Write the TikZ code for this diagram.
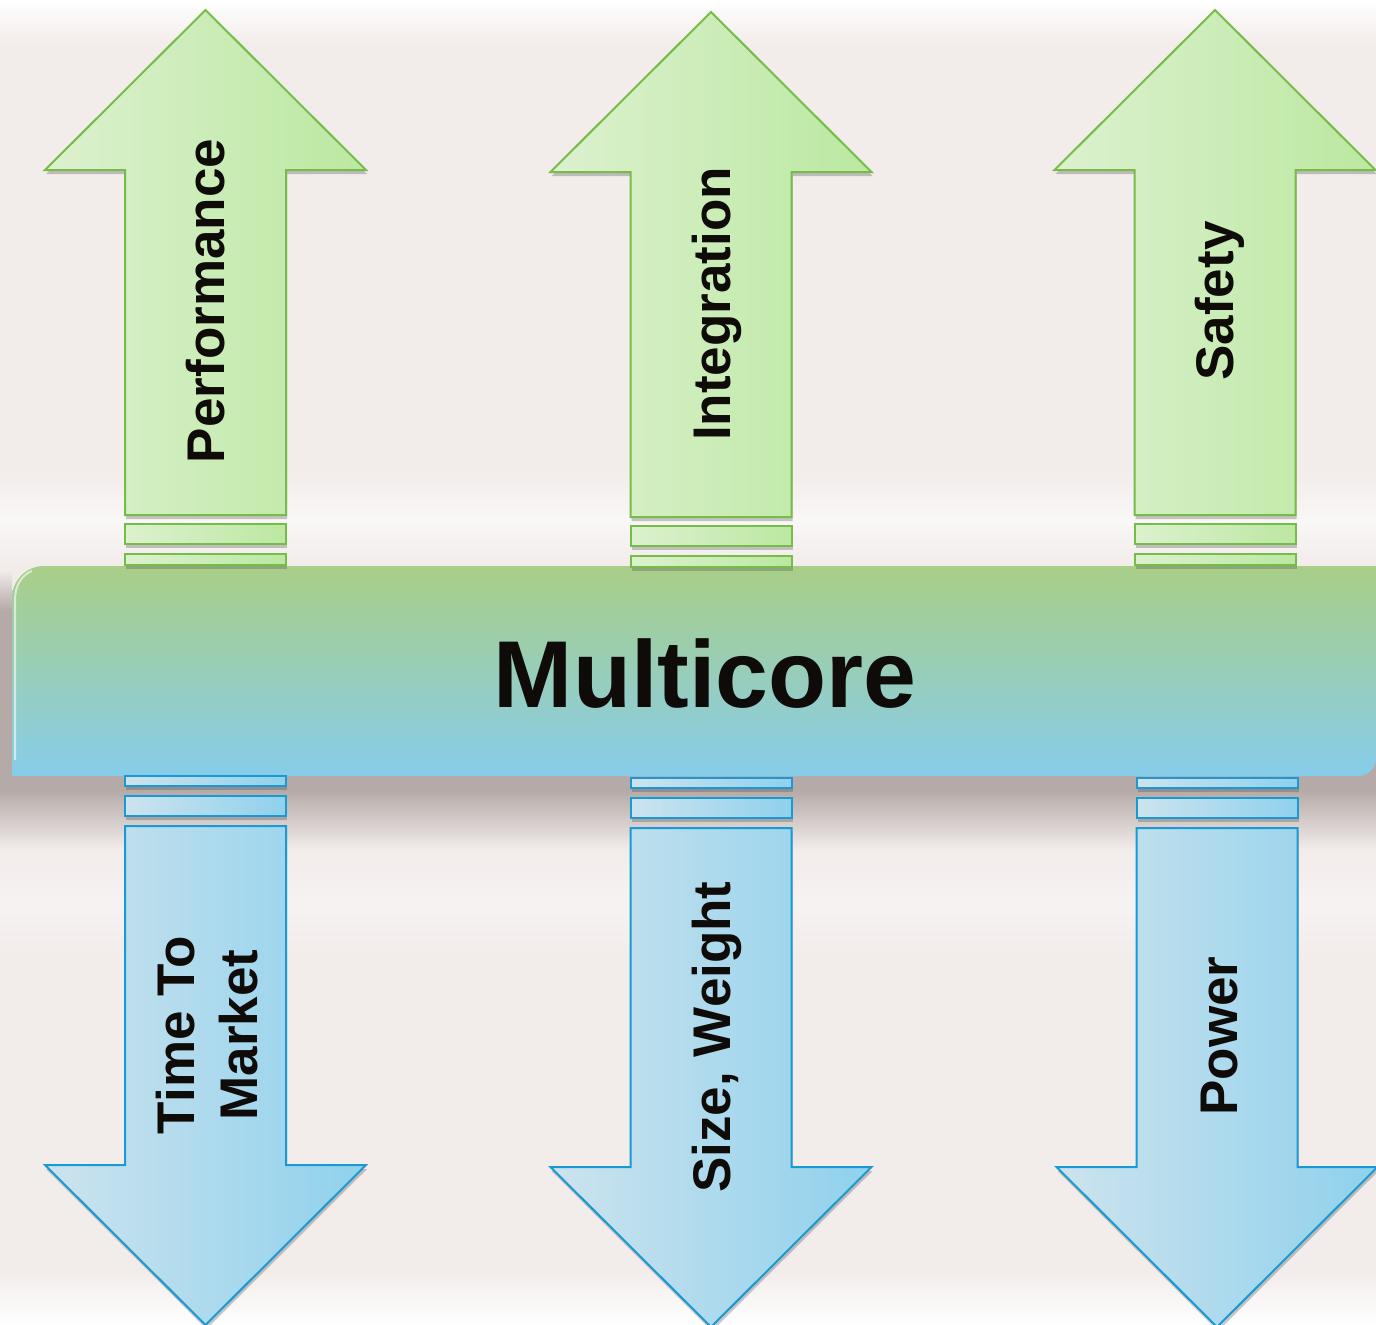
\documentclass[tikz,border=0pt]{standalone}
\usepackage{fontspec}
\setmainfont{Liberation Sans}
\usetikzlibrary{shadows}
\definecolor{bg}{HTML}{F2ECEA}
\definecolor{bglight}{HTML}{F9F7F7}
\definecolor{gL}{HTML}{DCF1CF}
\definecolor{gR}{HTML}{BBE8A1}
\definecolor{gline}{HTML}{76BC48}
\definecolor{bL}{HTML}{CDE3EE}
\definecolor{bR}{HTML}{8FD1EC}
\definecolor{bline}{HTML}{1A9AD4}
\definecolor{bandtop}{HTML}{A9CE88}
\definecolor{bandmid}{HTML}{9DD1C6}
\definecolor{bandbot}{HTML}{87CDEA}
\definecolor{txt}{HTML}{0E0B09}
\definecolor{shad}{HTML}{B5AAA8}
\tikzset{
  greenshape/.style={left color=gL, right color=gR, draw=gline, line width=2pt, line join=miter,
    drop shadow={shadow xshift=1pt, shadow yshift=-4pt, opacity=.3, fill=black!70}},
  blueshape/.style={left color=bL, right color=bR, draw=bline, line width=2pt, line join=miter,
    drop shadow={shadow xshift=1pt, shadow yshift=-4pt, opacity=.3, fill=black!70}},
  lbl/.style={text=txt, font=\fontsize{53}{63}\selectfont\bfseries, inner sep=0pt, rotate=90, anchor=base},
}
\begin{document}
\begin{tikzpicture}[x=1pt,y=-1pt]
\useasboundingbox (0,0) rectangle (1376,1325);
% background
\fill[bg] (0,0) rectangle (1376,1325);
\shade[top color=white, bottom color=bg] (0,0) rectangle (1376,45);
\shade[top color=bg, bottom color=bglight] (0,470) rectangle (1376,520);
\shade[top color=bglight, bottom color=bg] (0,520) rectangle (1376,566);
\shade[top color=bg, bottom color=bglight!60!bg] (0,850) rectangle (1376,905);
\shade[top color=bglight!60!bg, bottom color=bg] (0,905) rectangle (1376,960);
\shade[top color=bg, bottom color=white] (0,1270) rectangle (1376,1325);
% band shadow
\shade[top color=shad, bottom color=bg] (0,790) rectangle (1376,850);
\fill[shad] (0,610) rectangle (1376,790);
\shade[top color=bg, bottom color=shad] (0,570) rectangle (12,610);
% band
\shade[top color=bandtop, middle color=bandmid, bottom color=bandbot]
  (12,776) -- (12,598) .. controls (12,580.3) and (26.3,566) .. (44,566)
  -- (1376,566) -- (1376,758) .. controls (1376,768) and (1368,776) .. (1358,776) -- cycle;
\draw[white, opacity=.6, line width=2pt] (15,760) -- (15,600) .. controls (15,585) and (22,575) .. (32,571);
\node[text=txt, font=\fontsize{95}{110}\selectfont\bfseries, inner sep=0pt, anchor=base] (multi) at (705,707) {Multicore};
% up arrows
\foreach \cx/\t/\o in {205.5/10/0, 711/12/2, 1215/10/0}{
  \shadedraw[greenshape] (\cx,\t) -- (\cx+160.5,170+\o) -- (\cx+80.5,170+\o) -- (\cx+80.5,515+\o)
     -- (\cx-80.5,515+\o) -- (\cx-80.5,170+\o) -- (\cx-160.5,170+\o) -- cycle;
  \shadedraw[greenshape] (\cx-80.5,524+\o) rectangle (\cx+80.5,544+\o);
  \shadedraw[greenshape] (\cx-80.5,554+\o) rectangle (\cx+80.5,565+\o);
}
% down arrows
\foreach \cx/\o in {205.5/0, 711/2, 1217/2}{
  \shadedraw[blueshape] (\cx-80.5,776+\o) rectangle (\cx+80.5,786+\o);
  \shadedraw[blueshape] (\cx-80.5,796+\o) rectangle (\cx+80.5,816+\o);
  \shadedraw[blueshape] (\cx,1325+\o) -- (\cx+160.5,1165+\o) -- (\cx+80.5,1165+\o) -- (\cx+80.5,826+\o)
     -- (\cx-80.5,826+\o) -- (\cx-80.5,1165+\o) -- (\cx-160.5,1165+\o) -- cycle;
}
% labels
\node[lbl] (perf) at (224,301) {Performance};
\node[lbl] (integ) at (730,304) {Integration};
\node[lbl] (safe) at (1233,301) {Safety};
\node[lbl] (ttm1) at (194,1035) {Time To};
\node[lbl] (ttm2) at (257,1035) {Market};
\node[lbl] (size) at (730,1037) {Size, Weight};
\node[lbl] (power) at (1237,1036) {Power};
\end{tikzpicture}
\end{document}
